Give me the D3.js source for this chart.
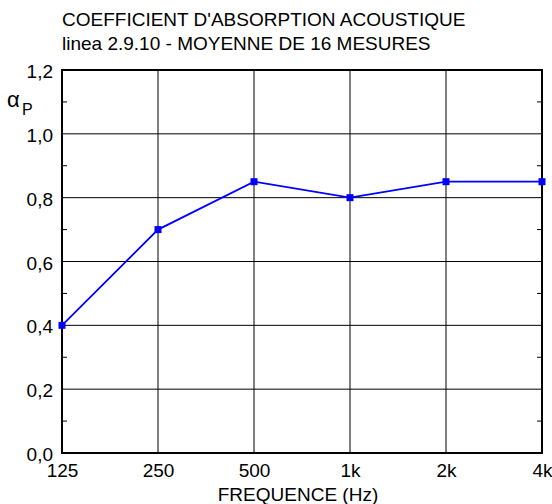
<!DOCTYPE html>
<html>
<head>
<meta charset="utf-8">
<script src="https://d3js.org/d3.v7.min.js"></script>
<style>
body { margin: 0; background: #fff; }
text { font-family: "Liberation Sans", Arial, sans-serif; }
</style>
</head>
<body>
<svg width="552" height="504"></svg>
<script>
// data
var freqs = [125, 250, 500, 1000, 2000, 4000];
var freqLabels = ['125', '250', '500', '1k', '2k', '4k'];
var alpha = [0.40, 0.70, 0.85, 0.80, 0.85, 0.85];
var yTicks = [0, 0.2, 0.4, 0.6, 0.8, 1.0, 1.2];
var yMinor = [0.1, 0.3, 0.5, 0.7, 0.9, 1.1];

var svg = d3.select('svg');
var padding = {t: 70, r: 10, b: 51, l: 62};
var chartWidth = 552 - padding.l - padding.r;
var chartHeight = 504 - padding.t - padding.b;
var fs = 19;

var x = d3.scaleLog().base(2).domain([125, 4000]).range([0, chartWidth]);
var y = d3.scaleLinear().domain([0, 1.2]).range([chartHeight, 0]);

var chartG = svg.append('g')
    .attr('transform', 'translate(' + [padding.l, padding.t] + ')');

// grid
chartG.selectAll('.vgrid').data(freqs.slice(1, -1)).enter().append('line')
    .attr('x1', d => x(d)).attr('x2', d => x(d))
    .attr('y1', 0).attr('y2', chartHeight)
    .attr('stroke', '#000').attr('stroke-width', 1);

chartG.selectAll('.hgrid').data(yTicks.slice(1, -1)).enter().append('line')
    .attr('x1', 0).attr('x2', chartWidth)
    .attr('y1', d => y(d)).attr('y2', d => y(d))
    .attr('stroke', '#000').attr('stroke-width', 1);

// minor ticks, both sides, pointing in
chartG.selectAll('.minL').data(yMinor).enter().append('line')
    .attr('x1', 0).attr('x2', 5)
    .attr('y1', d => y(d)).attr('y2', d => y(d))
    .attr('stroke', '#000').attr('stroke-width', 1);
chartG.selectAll('.minR').data(yMinor).enter().append('line')
    .attr('x1', chartWidth - 5).attr('x2', chartWidth)
    .attr('y1', d => y(d)).attr('y2', d => y(d))
    .attr('stroke', '#000').attr('stroke-width', 1);

// frame
chartG.append('rect')
    .attr('width', chartWidth).attr('height', chartHeight)
    .attr('fill', 'none').attr('stroke', '#000').attr('stroke-width', 2);

// y axis labels
var yAxis = d3.axisLeft(y).tickValues(yTicks).tickSize(0).tickPadding(9)
    .tickFormat(d => d3.format('.1f')(d).replace('.', ','));
chartG.append('g').call(yAxis)
    .call(g => g.select('.domain').remove())
    .selectAll('text')
    .attr('font-size', fs).attr('fill', '#000').attr('dy', '0.4em')
    .style('font-family', '"Liberation Sans", Arial, sans-serif');

// x axis labels
var xAxis = d3.axisBottom(x).tickValues(freqs).tickSize(0).tickPadding(11)
    .tickFormat((d, i) => freqLabels[i]);
chartG.append('g').attr('transform', 'translate(0,' + chartHeight + ')').call(xAxis)
    .call(g => g.select('.domain').remove())
    .selectAll('text')
    .attr('font-size', fs).attr('fill', '#000')
    .style('font-family', '"Liberation Sans", Arial, sans-serif');

// data line
var line = d3.line().x((d, i) => x(freqs[i])).y(d => y(d));
chartG.append('path').datum(alpha)
    .attr('d', line)
    .attr('fill', 'none').attr('stroke', '#0000ff').attr('stroke-width', 1.8);

chartG.selectAll('.pt').data(alpha).enter().append('rect')
    .attr('x', (d, i) => x(freqs[i]) - 3.5)
    .attr('y', d => y(d) - 3.5)
    .attr('width', 7).attr('height', 7)
    .attr('fill', '#0000ff');

// titles
svg.append('text').attr('x', 62).attr('y', 26).attr('font-size', fs)
    .text("COEFFICIENT D'ABSORPTION ACOUSTIQUE");
svg.append('text').attr('x', 62).attr('y', 50).attr('font-size', fs)
    .text('linea 2.9.10 - MOYENNE DE 16 MESURES');

svg.append('text').attr('x', 7).attr('y', 107).attr('font-size', 22).text('α');
svg.append('text').attr('x', 22).attr('y', 115).attr('font-size', 16).text('P');

svg.append('text').attr('x', 298).attr('y', 501)
    .attr('text-anchor', 'middle').attr('font-size', fs)
    .text('FREQUENCE (Hz)');
</script>
</body>
</html>
